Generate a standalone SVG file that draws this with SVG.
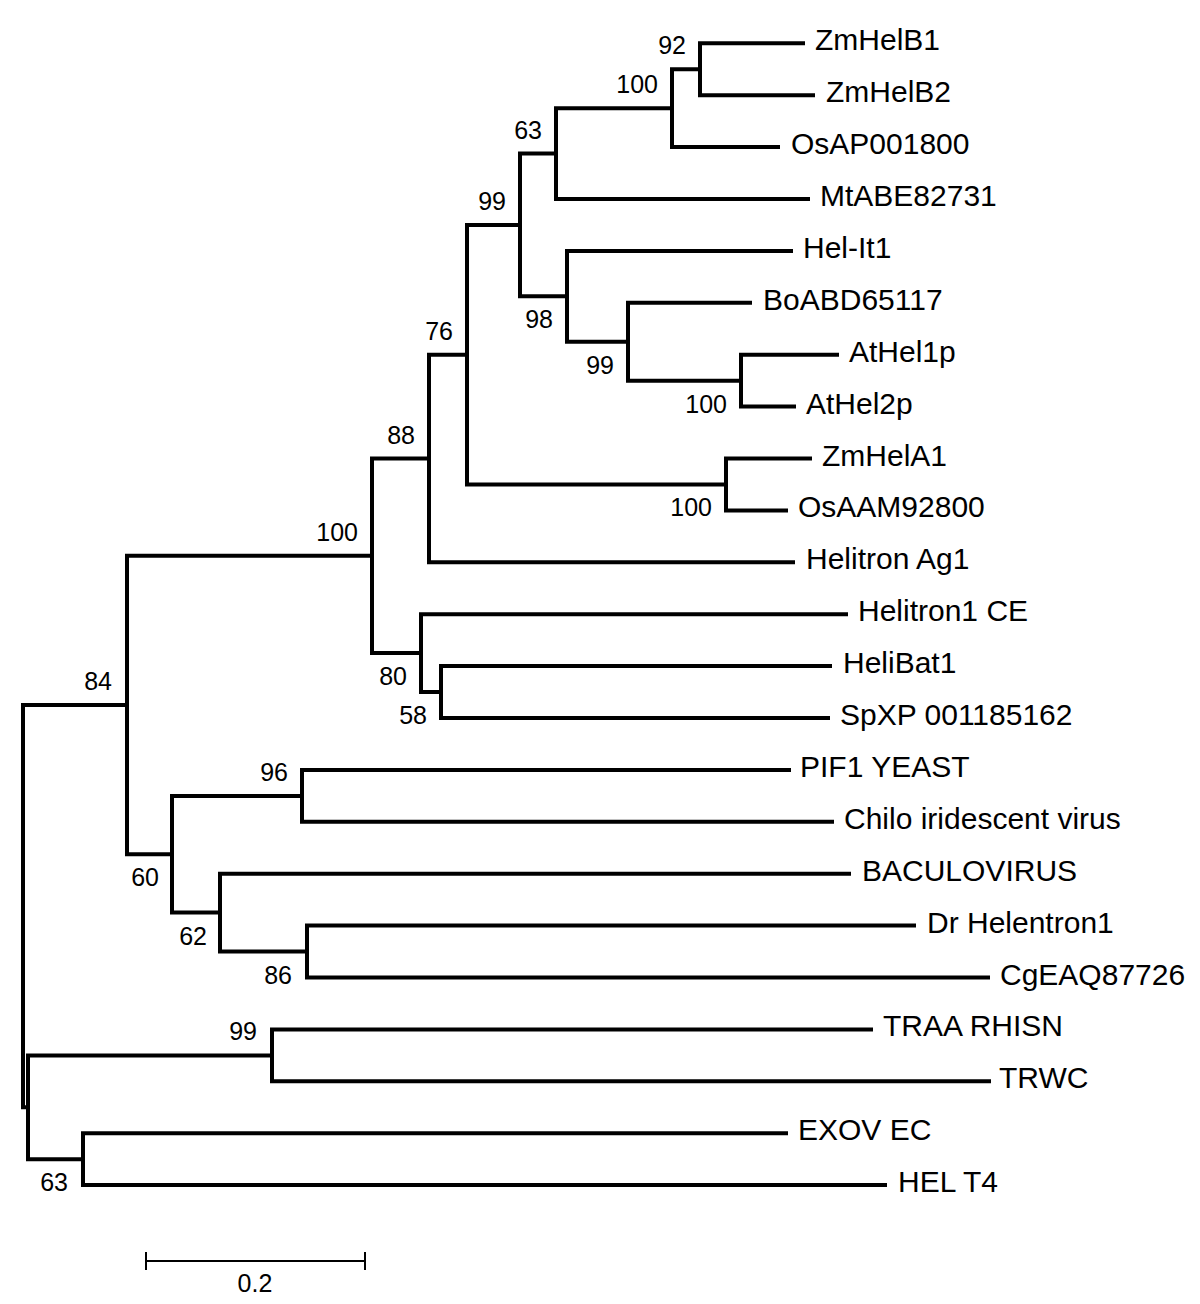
<svg xmlns="http://www.w3.org/2000/svg" width="1200" height="1304" viewBox="0 0 1200 1304">
<style>
.br{fill:none;stroke:#000;stroke-width:4;stroke-linejoin:miter;stroke-linecap:butt}
.sb{fill:none;stroke:#000;stroke-width:2}
.lab{font-family:"Liberation Sans",Arial,sans-serif;font-size:30px;fill:#000}
.bs{font-family:"Liberation Sans",Arial,sans-serif;font-size:25px;fill:#000;text-anchor:end}
</style>
<rect x="0" y="0" width="1200" height="1304" fill="#fff"/>
<g id="connectors">
<path class="br" d="M127 705 H23 V1107.3 H28"/>
<path class="br" d="M272 1055.4 H28 V1159.2 H83"/>
<path class="br" d="M372 555.8 H127 V854.2 H172"/>
<path class="br" d="M429 458.5 H372 V653.1 H421"/>
<path class="br" d="M467 354.7 H429 V562.3 H795"/>
<path class="br" d="M520 224.95 H467 V484.45 H726"/>
<path class="br" d="M556 153.6 H520 V296.3 H567"/>
<path class="br" d="M672 108.2 H556 V199 H810"/>
<path class="br" d="M700 69.25 H672 V147.1 H780"/>
<path class="br" d="M805 43.3 H700 V95.2 H815"/>
<path class="br" d="M793 250.9 H567 V341.7 H628"/>
<path class="br" d="M752 302.8 H628 V380.65 H741"/>
<path class="br" d="M839 354.7 H741 V406.6 H796"/>
<path class="br" d="M812 458.5 H726 V510.4 H788"/>
<path class="br" d="M848 614.2 H421 V692.05 H441"/>
<path class="br" d="M832 666.1 H441 V718 H830"/>
<path class="br" d="M302 795.9 H172 V912.6 H220"/>
<path class="br" d="M791 769.9 H302 V821.8 H834"/>
<path class="br" d="M851 873.7 H220 V951.6 H307"/>
<path class="br" d="M916 925.6 H307 V977.5 H990"/>
<path class="br" d="M873 1029.4 H272 V1081.3 H991"/>
<path class="br" d="M788 1133.2 H83 V1185.1 H887"/>
</g>
<g id="leaf-ZmHelB1"><text class="lab" x="815" y="50.3">ZmHelB1</text></g>
<g id="leaf-ZmHelB2"><text class="lab" x="826" y="102.2">ZmHelB2</text></g>
<g id="leaf-OsAP001800"><text class="lab" x="791" y="154.1">OsAP001800</text></g>
<g id="leaf-MtABE82731"><text class="lab" x="820" y="206">MtABE82731</text></g>
<g id="leaf-Hel-It1"><text class="lab" x="803" y="257.9">Hel-It1</text></g>
<g id="leaf-BoABD65117"><text class="lab" x="763" y="309.8">BoABD65117</text></g>
<g id="leaf-AtHel1p"><text class="lab" x="849" y="361.7">AtHel1p</text></g>
<g id="leaf-AtHel2p"><text class="lab" x="806" y="413.6">AtHel2p</text></g>
<g id="leaf-ZmHelA1"><text class="lab" x="822" y="465.5">ZmHelA1</text></g>
<g id="leaf-OsAAM92800"><text class="lab" x="798" y="517.4">OsAAM92800</text></g>
<g id="leaf-HelitronAg1"><text class="lab" x="806" y="569.3">Helitron Ag1</text></g>
<g id="leaf-Helitron1CE"><text class="lab" x="858" y="621.2">Helitron1 CE</text></g>
<g id="leaf-HeliBat1"><text class="lab" x="843" y="673.1">HeliBat1</text></g>
<g id="leaf-SpXP"><text class="lab" x="840" y="725">SpXP 001185162</text></g>
<g id="leaf-PIF1"><text class="lab" x="800" y="776.9">PIF1 YEAST</text></g>
<g id="leaf-Chilo"><text class="lab" x="844" y="828.8">Chilo iridescent virus</text></g>
<g id="leaf-BACULOVIRUS"><text class="lab" x="862" y="880.7">BACULOVIRUS</text></g>
<g id="leaf-DrHelentron1"><text class="lab" x="927" y="932.6">Dr Helentron1</text></g>
<g id="leaf-CgEAQ87726"><text class="lab" x="1000" y="984.5">CgEAQ87726</text></g>
<g id="leaf-TRAA"><text class="lab" x="883" y="1036.4">TRAA RHISN</text></g>
<g id="leaf-TRWC"><text class="lab" x="999" y="1088.3">TRWC</text></g>
<g id="leaf-EXOV"><text class="lab" x="798" y="1140.2">EXOV EC</text></g>
<g id="leaf-HELT4"><text class="lab" x="898" y="1192.1">HEL T4</text></g>
<g id="node-92"><text class="bs" x="686" y="54">92</text></g>
<g id="node-100a"><text class="bs" x="658" y="93">100</text></g>
<g id="node-63a"><text class="bs" x="542" y="138.6">63</text></g>
<g id="node-99a"><text class="bs" x="506" y="210">99</text></g>
<g id="node-98"><text class="bs" x="553" y="328">98</text></g>
<g id="node-99b"><text class="bs" x="614" y="373.7">99</text></g>
<g id="node-100b"><text class="bs" x="727" y="412.6">100</text></g>
<g id="node-76"><text class="bs" x="453" y="339.7">76</text></g>
<g id="node-88"><text class="bs" x="415" y="443.5">88</text></g>
<g id="node-100c"><text class="bs" x="712" y="516.4">100</text></g>
<g id="node-100main"><text class="bs" x="358" y="540.8">100</text></g>
<g id="node-80"><text class="bs" x="407" y="685">80</text></g>
<g id="node-58"><text class="bs" x="427" y="724">58</text></g>
<g id="node-84"><text class="bs" x="112" y="690">84</text></g>
<g id="node-96"><text class="bs" x="288" y="780.9">96</text></g>
<g id="node-60"><text class="bs" x="159" y="886">60</text></g>
<g id="node-62"><text class="bs" x="207" y="944.6">62</text></g>
<g id="node-86"><text class="bs" x="292" y="983.6">86</text></g>
<g id="node-99c"><text class="bs" x="257" y="1040.4">99</text></g>
<g id="node-63b"><text class="bs" x="68" y="1191">63</text></g>
<g id="scalebar">
<path class="sb" d="M146 1261 H365 M146 1252 V1270 M365 1252 V1270"/>
<text class="bs" x="255" y="1292" style="text-anchor:middle">0.2</text>
</g>
</svg>
